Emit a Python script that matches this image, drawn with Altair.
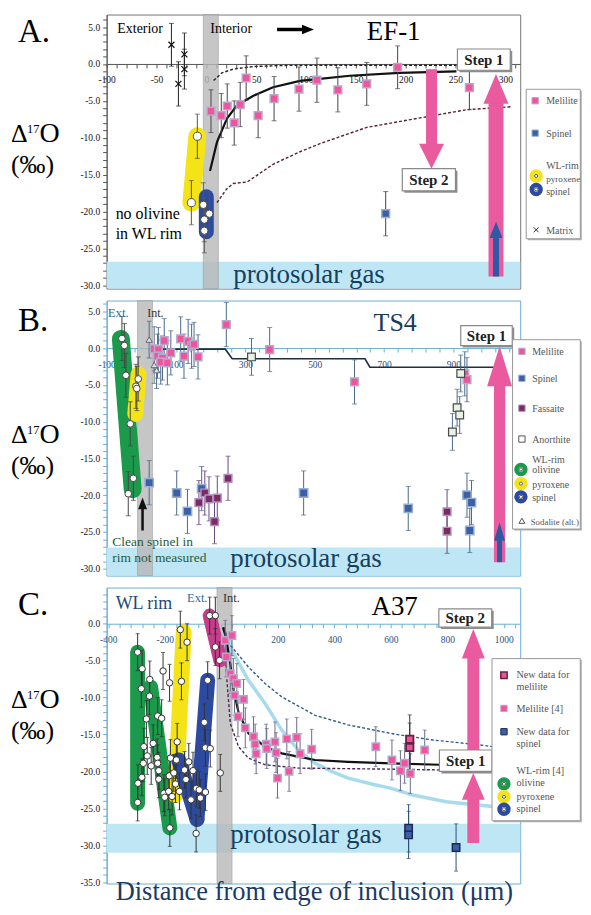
import altair as alt
import pandas as pd

SERIF = "Liberation Serif, Times New Roman, serif"
PLOT_W = 415

PINK = "#e95a9f"
MEL_FILL, MEL_EDGE = "#f0559c", "#b9a7cf"
SPL_FILL, SPL_EDGE = "#3c5fa8", "#9ab0d0"
FAS_FILL, FAS_EDGE = "#7b2b5f", "#b090c0"
GAS_COL = "#bfe6f4"
GRAY_BAND = "#b9b9b9"
GREEN, YELLOW, BLUE, MAGENTA = "#1b9a4b", "#f4e316", "#2c4ba0", "#c83c8c"

# ---------------- Panel A (EF-1) ----------------
A_mel_x = [4.7, 15, 21, 28, 34, 40, 52, 68, 93, 111, 132, 161, 192, 264]
A_mel_y = [-6.4, -7.0, -5.7, -8.0, -5.5, -1.9, -7.0, -4.7, -3.4, -2.2, -3.5, -2.7, -0.45, -3.2]
A_mel_e = [2.9, 3.0, 3.0, 3.0, 3.0, 3.0, 3.0, 3.0, 3.0, 3.0, 3.0, 2.9, 2.9, 3.0]
A_spl_x = [180]
A_spl_y = [-20.3]
A_spl_e = [3.0]
A_mtx_x = [-35, -28, -22, -22]
A_mtx_y = [2.6, -2.7, 1.3, -0.7]
A_mtx_e = [2.9, 3.0, 2.9, 2.7]
A_pyx_x = [-9, -15]
A_pyx_y = [-9.8, -18.8]
A_pyx_e = [3.0, 3.0]
A_rsp_x = [-3, 3, -2, -2]
A_rsp_y = [-19.1, -20.3, -21.1, -22.6]
A_rsp_e = [3.0, 3.0, 3.0, 3.0]
A_fit_x = [3.7, 10.7, 20.7, 30.7, 47.3, 67, 94, 109, 144, 194, 251]
A_fit_y = [-14.5, -10.6, -7.4, -5.6, -4.3, -3.15, -2.3, -2.1, -1.6, -1.2, -1.0]
A_up_x = [7.3, 15.7, 27, 47, 77, 120, 251]
A_up_y = [-2.25, -1.2, -0.7, -0.35, -0.2, -0.18, -0.18]
A_lo_x = [10.7, 20, 27, 41, 67, 94, 114, 161, 211, 261, 306]
A_lo_y = [-18.8, -17.0, -16.2, -16.0, -13.6, -11.9, -10.8, -8.6, -7.4, -6.2, -5.8]
A_gas_top = -26.8

# ---------------- Panel B (TS4) ----------------
B_mel_x = [37, 66, 49, 46.6, 61, 56, 75, 85, 113.5, 123, 135, 145, 152, 163.5, 245, 370, 614.7, 932.6, 939]
B_mel_y = [-0.1, 1.0, -0.2, -1.1, -1.35, -1.9, -2.0, -0.65, 1.25, -1.1, 0.9, 0.25, 0.5, -1.2, 3.2, -0.2, -4.6, -3.5, -4.3]
B_spl_x = [22.6, 102, 133, 174, 468, 769.6, 939, 952, 947]
B_spl_y = [-18.3, -19.7, -22.2, -19.1, -19.7, -21.8, -20.0, -21.0, -24.8]
B_fas_x = [166, 183, 195, 219, 211, 250, 881.6, 881.6]
B_fas_y = [-21.0, -19.7, -20.5, -20.4, -23.6, -17.7, -22.25, -24.9]
B_ano_x = [317.6, 921, 910.6, 918, 897]
B_ano_y = [-1.2, -3.45, -8.1, -9.1, -11.4]
B_sod_x = [22.6, 37, 44]
B_sod_y = [1.15, -2.3, -3.0]
B_oli_x = [-56, -49, -44.5, -32, -23, -37.7]
B_oli_y = [1.3, 0.35, -3.7, -10.3, -17.7, -19.8]
B_pyx_x = [-9, -15.6, -13]
B_pyx_y = [-4.2, -5.2, -5.5]
B_step_x = [22.7, 242, 262, 645, 659, 1019]
B_step_y = [-0.15, -0.15, -1.45, -1.45, -2.6, -2.6]
B_gas_top = -27.1

# ---------------- Panel C (A37) ----------------
C_mel_x = [14, 37.7, 17.6, 32, 43, 55, 47, 79, 59, 85,
           114, 120, 123.5, 159, 161, 190, 194, 199, 232, 240,
           267, 279, 320, 547, 604, 634, 649, 669, 720]
C_mel_y = [-2.25, -1.6, -4.5, -6.75, -7.4, -8.1, -9.7, -10.25, -12.6, -14.1,
           -15.3, -16.3, -17.6, -16.3, -16.9, -16.0, -17.45, -20.9, -15.6, -20.0,
           -15.4, -17.6, -17.0, -16.65, -18.45, -19.9, -18.9, -20.3, -17.1]
C_newmel_x = [667, 667]
C_newmel_y = [-15.65, -16.75]
C_newspl_x = [663, 663, 831]
C_newspl_y = [-27.7, -28.6, -30.3]
C_rim_x = [-296, -280, -253, -283, -254, -206, -183, -265, -225, -211,
           -141, -145, -121, -274, -241, -262, -276, -248, -227, -225,
           -221, -281, -295, -296, -221, -184, -203, -186, -174, -200,
           -182, -156, -180, -159, -148, -115, -130, -100, -125, -88,
           -78, -107, -74, -56, -48, -60, -56, -39, -89, -41,
           -21, -21, -6, -3.5, -168, -162]
C_rim_y = [-3.85, -6.1, -7.55, -8.8, -9.8, -6.4, -8.0, -12.9, -12.5, -12.8,
           -7.8, -0.8, -2.5, -16.65, -16.2, -17.9, -18.9, -19.25, -18.1, -18.9,
           -19.9, -20.8, -21.6, -24.2, -21.05, -20.6, -22.95, -22.7, -23.4, -23.5,
           -27.65, -16.0, -18.2, -18.45, -22.7, -18.7, -19.8, -19.9, -21.1, -22.3,
           -22.5, -23.85, -23.6, -22.8, -7.65, -13.35, -16.8, -16.9, -28.4, 1.1,
           1.1, -3.15, -4.95, -20.2, -20.2, -21.7]
C_fit_x = [6, 14, 20, 32, 43, 61, 96, 155, 214, 332, 449, 602, 772]
C_fit_y = [-0.5, -1.5, -2.6, -5.5, -8.8, -12.0, -14.85, -16.65, -17.55, -18.45, -18.7, -18.9, -19.1]
C_up_x = [10.6, 26, 43, 96, 155, 214, 332, 449, 567, 614, 749, 914, 960]
C_up_y = [-0.45, -2.7, -3.4, -5.85, -8.1, -9.9, -12.4, -13.7, -14.6, -14.95, -15.75, -16.4, -16.65]
C_lo_x = [16.6, 20, 32, 61, 96, 155, 273, 614, 772]
C_lo_y = [-5.5, -7.65, -13.5, -16.65, -18.2, -19.1, -19.55, -19.7, -19.8]
C_lb_x = [30, 37.7, 96, 155, 214, 273, 332, 390, 449, 543, 602, 678, 796, 960]
C_lb_y = [-2.0, -3.6, -7.65, -10.8, -14.4, -17.1, -18.9, -20.0, -20.9, -21.8, -22.3, -23.2, -24.1, -24.75]
C_gas = [-27.1, -31.0]


def one():
    return pd.DataFrame({"k": [0]})


def lab_expr(test, fmt):
    return (f"({test}) ? ((datum.value < 0 ? '-' : '') + "
            f"format(abs(datum.value), '{fmt}')) : ''")


class Panel:
    def __init__(self, xdom, ydom, height, origin, xvals, xtest, yvals,
                 axis_col, xlab_col, ylab_col, frame_col):
        self.h = height
        self.ox, self.oy = origin
        self.xdom, self.ydom = xdom, ydom
        self.kx = PLOT_W / (xdom[1] - xdom[0])
        self.ky = height / (ydom[1] - ydom[0])
        y0 = ydom[1] * self.ky
        self.xs = alt.Scale(domain=list(xdom), nice=False, zero=False)
        self.ys = alt.Scale(domain=list(ydom), nice=False, zero=False)
        self.xaxis = alt.Axis(title=None, values=xvals, labelExpr=lab_expr(xtest, "d"),
                              offset=y0 - height, grid=False, domainColor=axis_col,
                              tickColor=axis_col, tickSize=4, labelPadding=7,
                              labelFont=SERIF, labelFontSize=9.5, labelColor=xlab_col,
                              labelFlush=False, labelOverlap=False)
        self.yaxis = alt.Axis(title=None, values=yvals,
                              labelExpr=lab_expr("datum.value % 5 === 0", ".1f"),
                              grid=False, domainColor=axis_col, tickColor=axis_col,
                              tickSize=4, labelPadding=3, labelFont=SERIF,
                              labelFontSize=9.5, labelColor=ylab_col,
                              labelFlush=False, labelOverlap=False)
        self.frame = frame_col
        self.layers = []

    def X(self, f):
        return alt.X(f"{f}:Q", scale=self.xs, axis=self.xaxis)

    def Y(self, f):
        return alt.Y(f"{f}:Q", scale=self.ys, axis=self.yaxis)

    def add(self, c):
        self.layers.append(c)

    # ---- data-space marks ----
    def rect(self, x1, x2, y1, y2, **kw):
        df = pd.DataFrame({"x1": [x1], "x2": [x2], "y1": [y1], "y2": [y2]})
        self.add(alt.Chart(df).mark_rect(**kw).encode(
            x=self.X("x1"), x2="x2:Q", y=self.Y("y1"), y2="y2:Q"))

    def line(self, xs, ys, color, width, dash=None, cap="butt"):
        df = pd.DataFrame({"x": xs, "y": ys, "i": list(range(len(xs)))})
        kw = dict(color=color, strokeWidth=width, strokeCap=cap)
        if dash:
            kw["strokeDash"] = dash
        self.add(alt.Chart(df).mark_line(**kw).encode(
            x=self.X("x"), y=self.Y("y"), order="i:Q"))

    def errbars(self, xs, ys, es, color, cap=5):
        if not isinstance(es, list):
            es = [es] * len(xs)
        lo = [y - e for y, e in zip(ys, es)]
        hi = [y + e for y, e in zip(ys, es)]
        df = pd.DataFrame({"x": xs, "lo": lo, "hi": hi})
        self.add(alt.Chart(df).mark_rule(color=color, strokeWidth=1).encode(
            x=self.X("x"), y=self.Y("lo"), y2="hi:Q"))
        caps = pd.DataFrame({"x": list(xs) * 2, "c": lo + hi})
        self.add(alt.Chart(caps).mark_tick(orient="horizontal", size=cap, thickness=1,
                                           color=color).encode(
            x=self.X("x"), y=self.Y("c")))

    def points(self, xs, ys, shape, size, fill, stroke, sw=1.0, filled=True):
        df = pd.DataFrame({"x": xs, "y": ys})
        kw = dict(shape=shape, size=size, opacity=1, stroke=stroke,
                  strokeWidth=sw, filled=filled)
        if filled:
            kw["fill"] = fill
        self.add(alt.Chart(df).mark_point(**kw).encode(x=self.X("x"), y=self.Y("y")))

    def varrow(self, x, ytail, ybase, ytip, shaft, headw, color):
        hh = abs(ytip - ybase) * self.ky
        s = max(hh, headw)
        a, b = headw / s, hh / s
        if ytip > ybase:
            path = f"M{-a:.3f},{b:.3f}L0,{-b:.3f}L{a:.3f},{b:.3f}Z"
        else:
            path = f"M{-a:.3f},{-b:.3f}L0,{b:.3f}L{a:.3f},{-b:.3f}Z"
        df = pd.DataFrame({"x": [x], "y1": [ytail], "y2": [ybase + (ytip - ybase) * 0.2],
                           "yc": [(ybase + ytip) / 2]})
        self.add(alt.Chart(df).mark_rule(color=color, strokeWidth=shaft,
                                         strokeCap="butt").encode(
            x=self.X("x"), y=self.Y("y1"), y2="y2:Q"))
        self.add(alt.Chart(df).mark_point(shape=path, size=s * s, filled=True, fill=color,
                                          opacity=1, strokeWidth=0).encode(
            x=self.X("x"), y=self.Y("yc")))

    def dtext(self, x, y, text, size, color="#000", align="center",
              baseline="middle", weight="normal"):
        df = pd.DataFrame({"x": [x], "y": [y]})
        self.add(alt.Chart(df).mark_text(text=text, font=SERIF, fontSize=size, color=color,
                                         align=align, baseline=baseline,
                                         fontWeight=weight).encode(
            x=self.X("x"), y=self.Y("y")))

    def stepbox(self, x1, x2, y1, y2, text, size=15):
        dx, dy = 2 / self.kx, 2 / self.ky
        self.rect(x1 + dx, x2 + dx, y1 - dy, y2 - dy, color="#8c8c8c")
        self.rect(x1, x2, y1, y2, fill="white", stroke="#8a8a8a", strokeWidth=1.2)
        self.dtext((x1 + x2) / 2, (y1 + y2) / 2, text, size, color="#222", weight="bold")

    # ---- page-space annotations ----
    def ptext(self, px, py, text, size, color="#000", align="left",
              baseline="alphabetic", weight="normal"):
        self.add(alt.Chart(one()).mark_text(text=text, font=SERIF, fontSize=size,
                                            color=color, align=align, baseline=baseline,
                                            fontWeight=weight).encode(
            x=alt.value(px - self.ox), y=alt.value(py - self.oy)))

    def psym(self, px, py, shape, size, fill, stroke, sw=1.0, filled=True):
        kw = dict(shape=shape, size=size, opacity=1, stroke=stroke, strokeWidth=sw,
                  filled=filled)
        if filled:
            kw["fill"] = fill
        self.add(alt.Chart(one()).mark_point(**kw).encode(
            x=alt.value(px - self.ox), y=alt.value(py - self.oy)))

    def prect(self, px1, py1, px2, py2, **kw):
        self.add(alt.Chart(one()).mark_rect(**kw).encode(
            x=alt.value(px1 - self.ox), x2=alt.value(px2 - self.ox),
            y=alt.value(py1 - self.oy), y2=alt.value(py2 - self.oy)))

    def pline(self, px1, py1, px2, py2, color, width):
        self.add(alt.Chart(one()).mark_rule(color=color, strokeWidth=width).encode(
            x=alt.value(px1 - self.ox), x2=alt.value(px2 - self.ox),
            y=alt.value(py1 - self.oy), y2=alt.value(py2 - self.oy)))

    def ring(self, px, py, color):
        self.psym(px, py, "circle", 80, "white", color, sw=4.5)
        self.psym(px, py, "circle", 10, "white", "#333", sw=0.8)

    def legbox(self, px1, py1, px2, py2):
        self.prect(px1 + 1.5, py1 + 1.5, px2 + 1.5, py2 + 1.5, color="#b0b0b0")
        self.prect(px1, py1, px2, py2, fill="white", stroke="#999", strokeWidth=1)

    def ylabel(self, base, letter, lbase):
        self.ptext(17, lbase, letter, 33)
        self.ptext(10, base, "Δ", 26)
        self.ptext(26, base - 9, "17", 12.5)
        self.ptext(38.5, base, "O", 28)
        self.ptext(10, base + 31, "(‰)", 26)

    def chart(self):
        return alt.layer(*self.layers).properties(
            width=PLOT_W, height=self.h,
            view=alt.ViewBackground(stroke=self.frame, strokeWidth=1))


LEG = "#555"
RIGHT = 581.3   # legend boxes stop inside the 575-px-wide page body

# ======================= Panel A =======================
A = Panel((-100, 315), (-30.45, 6.7), 275, (106, 12), list(range(-100, 311, 10)),
          "datum.value % 50 === 0", list(range(-30, 7)), "#555", "#111", "#111", "#777")
A.rect(A.xdom[0], A.xdom[1], A_gas_top, A.ydom[0], color=GAS_COL)
A.rect(-3, 12, A.ydom[0], A.ydom[1], color=GRAY_BAND, opacity=0.8, stroke="#999",
       strokeWidth=0.8)
A.line(A_up_x, A_up_y, "#222", 1.4, dash=[3, 2])
A.line(A_lo_x, A_lo_y, "#5a1f35", 1.4, dash=[3, 2])
A.line(A_fit_x, A_fit_y, "#111", 2.2)
A.line([A_pyx_x[0], A_pyx_x[1]], [A_pyx_y[0], A_pyx_y[1]], YELLOW, 18, cap="round")
A.line([0, 0], [-18.0, -22.75], BLUE, 15, cap="round")
A.errbars(A_mtx_x, A_mtx_y, A_mtx_e, "#222")
A.errbars(A_mel_x, A_mel_y, A_mel_e, "#444")
A.errbars(A_spl_x, A_spl_y, A_spl_e, "#444")
A.errbars(A_pyx_x, A_pyx_y, A_pyx_e, "#555")
A.errbars(A_rsp_x, A_rsp_y, A_rsp_e, "#555")
A.points(A_mtx_x, A_mtx_y, "M-1,-1L1,1M-1,1L1,-1", 36, None, "#111", 1.2, filled=False)
A.points(A_mel_x, A_mel_y, "square", 60, MEL_FILL, MEL_EDGE, 1.5)
A.points(A_spl_x, A_spl_y, "square", 60, SPL_FILL, SPL_EDGE, 1.5)
A.points(A_pyx_x, A_pyx_y, "circle", 65, "white", "#555", 1)
A.points(A_rsp_x, A_rsp_y, "circle", 55, "white", "#444", 1)
A.varrow(226, -0.7, -10.8, -14.2, 11, 25, PINK)
A.varrow(290.7, -28.8, -5.4, -1.35, 15, 25, PINK)
A.varrow(290.7, -28.8, -23.6, -21.4, 6, 13, "#2f5aa3")
A.stepbox(252, 305, 2.03, -0.85, "Step 1")
A.stepbox(196.7, 250, -14.2, -17.2, "Step 2")
A.ptext(116.7, 31, "Exterior", 14)
A.ptext(210, 31, "Interior", 14)
A.pline(277, 27, 303, 27, "#000", 3.5)
A.psym(308, 27, "M-1,-0.8L1,0L-1,0.8Z", 144, "#000", "#000", 0)
A.ptext(394, 38, "EF-1", 27, align="center")
A.ptext(115, 217, "no olivine", 16)
A.ptext(115, 237, "in WL rim", 16)
A.ptext(233, 281, "protosolar gas", 27, color="#13405f")
A.ylabel(140, "A.", 40)
A.legbox(527, 87, RIGHT, 237)
A.psym(536, 98.5, "square", 40, MEL_FILL, MEL_EDGE, 1)
A.ptext(547, 102, "Melilite", 10, color=LEG)
A.psym(536, 131, "square", 40, SPL_FILL, SPL_EDGE, 1)
A.ptext(547, 135, "Spinel", 10, color=LEG)
A.ring(537, 174, YELLOW)
A.ring(537, 187.5, BLUE)
A.ptext(547, 167, "WL-rim", 10, color=LEG)
A.ptext(547, 180, "pyroxene", 9.2, color=LEG)
A.ptext(547, 193, "spinel", 10, color=LEG)
A.psym(537, 228, "M-1,-1L1,1M-1,1L1,-1", 25, None, "#333", 1, filled=False)
A.ptext(547, 232, "Matrix", 10, color=LEG)

# ======================= Panel B =======================
B = Panel((-100, 1092.5), (-30.93, 6.46), 276, (106, 299), list(range(-100, 1061, 40)),
          "(datum.value + 100) % 200 === 0", list(range(-30, 7)), "#6aaed6", "#1f4f78",
          "#111", "#6aaed6")
B.rect(B.xdom[0], B.xdom[1], B_gas_top, B.ydom[0], color=GAS_COL)
B.rect(-11, 32, B.ydom[0], B.ydom[1], color=GRAY_BAND, opacity=0.8, stroke="#999",
       strokeWidth=0.8)
B.line(B_step_x, B_step_y, "#1f2f40", 1.6)
B.line([-59, -25], [1.25, -19.2], GREEN, 18, cap="round")
B.line([-8, -17.5], [-3.55, -8.95], YELLOW, 16, cap="round")
B.errbars(B_oli_x, B_oli_y, 3.0, "#444")
B.errbars(B_pyx_x, B_pyx_y, 3.0, "#444")
B.errbars(B_sod_x, B_sod_y, 2.5, "#4a6a8a")
B.errbars(B_mel_x, B_mel_y, 3.0, "#4a6a8a")
B.errbars(B_ano_x, B_ano_y, 2.5, "#4a6a8a")
B.errbars(B_spl_x, B_spl_y, 3.0, "#4a6a8a")
B.errbars(B_fas_x, B_fas_y, 3.0, "#6a4a7a")
B.points(B_oli_x, B_oli_y, "circle", 45, "white", "#444", 1)
B.points(B_pyx_x, B_pyx_y, "circle", 45, "white", "#444", 1)
B.points(B_sod_x, B_sod_y, "triangle-up", 40, "#dde3e3", "#667", 1)
B.points(B_mel_x, B_mel_y, "square", 60, MEL_FILL, MEL_EDGE, 1.5)
B.points(B_ano_x, B_ano_y, "square", 60, "#e9f2e4", "#4a4a4a", 1.2)
B.points(B_spl_x, B_spl_y, "square", 70, SPL_FILL, SPL_EDGE, 1.5)
B.points(B_fas_x, B_fas_y, "square", 60, FAS_FILL, FAS_EDGE, 1.5)
B.varrow(3.5, -24.8, -21.9, -20.3, 2.5, 9, "#111")
B.varrow(1033, -29.1, -5.2, 0.25, 11.3, 25, PINK)
B.varrow(1033, -29.1, -26.2, -23.7, 5, 11, "#2f5aa3")
B.stepbox(921, 1069.5, 3.05, 0.34, "Step 1")
B.ptext(107, 316, "Ext.", 13, color="#2c6e98")
B.ptext(146.7, 316, "Int.", 12, color="#333")
B.ptext(395.5, 330, "TS4", 26, color="#163c58", align="center")
B.ptext(111.7, 545, "Clean spinel in", 13.5, color="#1e5c40")
B.ptext(111.7, 561.7, "rim not measured", 13.5, color="#1e5c40")
B.ptext(230, 566.7, "protosolar gas", 27, color="#13405f")
B.ylabel(441.7, "B.", 330)
B.legbox(513.3, 338.3, RIGHT, 528.3)
B.psym(522.7, 350, "square", 40, MEL_FILL, MEL_EDGE, 1)
B.ptext(533, 354, "Melilite", 10, color=LEG)
B.psym(522.7, 377, "square", 40, SPL_FILL, SPL_EDGE, 1)
B.ptext(533, 381, "Spinel", 10, color=LEG)
B.psym(522.7, 407, "square", 40, FAS_FILL, FAS_EDGE, 1)
B.ptext(533, 411, "Fassaite", 10, color=LEG)
B.psym(522.7, 438, "square", 40, "white", "#555", 1)
B.ptext(533, 442, "Anorthite", 10, color=LEG)
B.ring(521.7, 468.5, GREEN)
B.ring(521.7, 482.7, YELLOW)
B.ring(521.7, 496, BLUE)
B.ptext(533, 462, "WL-rim", 10, color=LEG)
B.ptext(533, 472.5, "olivine", 10, color=LEG)
B.ptext(533, 487, "pyroxene", 10, color=LEG)
B.ptext(533, 500, "spinel", 10, color=LEG)
B.psym(522.7, 520, "triangle-up", 35, "white", "#555", 1)
B.ptext(531.5, 524, "Sodalite (alt.)", 8.9, color=LEG)

# ======================= Panel C =======================
C = Panel((-405.6, 1058), (-35.18, 4.9), 297, (106, 587), list(range(-400, 1041, 40)),
          "datum.value % 200 === 0 && datum.value !== 0", list(range(-35, 5)),
          "#6aaed6", "#1f4f78", "#111", "#6aaed6")
C.rect(C.xdom[0], C.xdom[1], C_gas[0], C_gas[1], color=GAS_COL)
C.rect(-15, 38, C.ydom[0], C.ydom[1], color=GRAY_BAND, opacity=0.8, stroke="#999",
       strokeWidth=0.8)
C.line(C_lb_x, C_lb_y, "#a9dbef", 3.5)
C.line(C_up_x, C_up_y, "#2b5d8a", 1.4, dash=[3, 2])
C.line(C_lo_x, C_lo_y, "#4a2a55", 1.4, dash=[3, 2])
C.line(C_fit_x, C_fit_y, "#111", 2.2)
C.line([-296, -296], [-3.85, -24.3], GREEN, 15, cap="round")
C.line([-250, -182], [-8.55, -27.65], GREEN, 15, cap="round")
C.line([-133, -162], [-1.15, -23.2], YELLOW, 16, cap="round")
C.line([-150.6, -86], [-18.45, -26.5], BLUE, 15, cap="round")
C.line([-48, -86], [-7.65, -26.5], BLUE, 15, cap="round")
C.line([-41, -3.5], [1.1, -4.95], MAGENTA, 14, cap="round")
C.errbars(C_rim_x, C_rim_y, 2.5, "#333", cap=4)
C.errbars(C_mel_x, C_mel_y, 2.7, "#6a6a8a", cap=4)
C.errbars(C_newmel_x, C_newmel_y, 3.3, "#333", cap=4)
C.errbars(C_newspl_x, C_newspl_y, 3.2, "#2b4f7a", cap=4)
C.points(C_rim_x, C_rim_y, "circle", 42, "white", "#333", 1)
C.points(C_mel_x, C_mel_y, "square", 55, MEL_FILL, MEL_EDGE, 1.5)
C.points(C_newmel_x, C_newmel_y, "square", 55, "#e8559a", "#6a2040", 1.8)
C.points(C_newspl_x, C_newspl_y, "square", 55, SPL_FILL, "#1a2a50", 1.5)
C.varrow(892, -17.1, -4.7, -0.7, 12, 23, PINK)
C.varrow(892, -29.7, -23.85, -20.2, 12, 23, PINK)
C.stepbox(770, 957, 2.02, -0.46, "Step 2")
C.stepbox(772, 958, -17.1, -20.0, "Step 1")
C.ptext(115, 609, "WL rim", 18, color="#1d4a78")
C.ptext(186.7, 602, "Ext.", 12.5, color="#2c6e98")
C.ptext(222.7, 602, "Int.", 12.5, color="#333")
C.ptext(395, 615, "A37", 27, align="center")
C.ptext(230, 843.3, "protosolar gas", 27, color="#13405f")
C.ptext(314.5, 901, "Distance from edge of inclusion (μm)", 26.5, color="#1b3a66",
        align="center")
C.ylabel(708, "C.", 615)
C.legbox(492.7, 658.3, RIGHT, 821)
C.psym(504.7, 675, "square", 40, "#e8559a", "#6a2040", 1.5)
C.ptext(517.3, 677.5, "New data for", 10.2, color=LEG)
C.ptext(517.3, 690, "melilite", 10.2, color=LEG)
C.psym(504.7, 708.3, "square", 40, MEL_FILL, MEL_EDGE, 1)
C.ptext(517.3, 712, "Melilite [4]", 10.2, color=LEG)
C.psym(504.7, 731.7, "square", 40, SPL_FILL, "#1a2a50", 1)
C.ptext(517.3, 735, "New data for", 10.2, color=LEG)
C.ptext(517.3, 747, "spinel", 10.2, color=LEG)
C.ring(504.7, 784, GREEN)
C.ring(504.7, 797, YELLOW)
C.ring(504.7, 809.5, BLUE)
C.ptext(517.3, 774, "WL-rim [4]", 10.2, color=LEG)
C.ptext(517.3, 786, "olivine", 10.2, color=LEG)
C.ptext(517.3, 800, "pyroxene", 10.2, color=LEG)
C.ptext(517.3, 812.5, "spinel", 10.2, color=LEG)

chart = alt.vconcat(A.chart(), B.chart(), C.chart(), spacing=12, bounds="flush").properties(
    padding={"left": 2, "top": 4, "right": 0, "bottom": 0}, background="white")

chart.save("out.html", embed_options={"renderer": "svg", "actions": False})
